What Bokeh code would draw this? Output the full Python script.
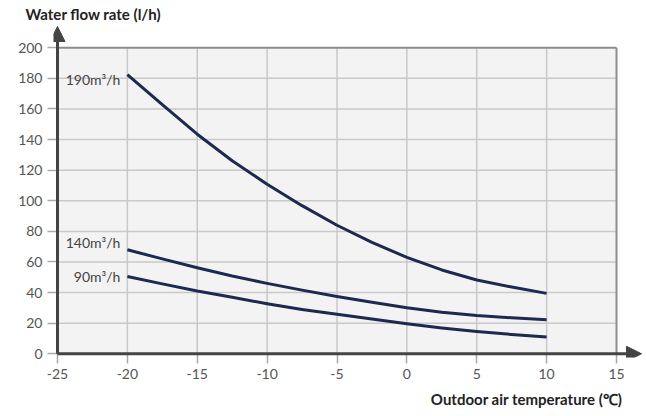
from bokeh.plotting import figure
from bokeh.models import Range1d, Arrow, NormalHead, Title, ColumnDataSource, FixedTicker
from bokeh.core.properties import value
from bokeh.embed import file_html
from bokeh.resources import INLINE

# ---- data ----
temps = [-20, -17.5, -15, -12.5, -10, -7.5, -5, -2.5, 0, 2.5, 5, 7.5, 10]
flow_190 = [182.5, 162.8, 143.5, 126.2, 110.8, 96.8, 84, 72.8, 63, 54.8, 48.2, 43.6, 39.5]
flow_140 = [68, 62, 56.2, 50.8, 46, 41.6, 37.5, 33.7, 30.1, 27.2, 25, 23.5, 22.2]
flow_90 = [50.5, 45.7, 41, 36.9, 32.7, 29, 25.8, 22.8, 19.6, 16.9, 14.6, 12.6, 10.9]

series_names = ["190m³/h", "140m³/h", "90m³/h"]
series_label_y = [179, 73, 50.3]

x_ticks = [-25, -20, -15, -10, -5, 0, 5, 10, 15]
y_ticks = [0, 20, 40, 60, 80, 100, 120, 140, 160, 180, 200]

x_title = "Outdoor air temperature (℃)"
y_title = "Water flow rate (l/h)"

FONT = "Lato"
LINE_COLOR = "#1c2a50"
AXIS_COLOR = "#444444"

p = figure(width=644, height=414, output_backend="svg", toolbar_location=None,
           x_range=Range1d(-25.286, 16.86), y_range=Range1d(-2.42, 216.5),
           min_border_left=53, min_border_right=2, min_border_top=22, min_border_bottom=57)
p.grid.visible = False
p.outline_line_color = None
p.background_fill_color = "white"

xmin, xmax = x_ticks[0], x_ticks[-1]
ymin, ymax = y_ticks[0], y_ticks[-1]

# plot area background
p.quad(left=[xmin], right=[xmax], bottom=[ymin], top=[ymax],
       fill_color="#f3f3f3", line_color=None)

# grid lines
gx = x_ticks[1:-1]
p.segment(x0=gx, y0=[ymin] * len(gx), x1=gx, y1=[ymax] * len(gx),
          line_color="#c9c9c9", line_width=1.5)
gy = y_ticks[1:-1]
p.segment(x0=[xmin] * len(gy), y0=gy, x1=[xmax] * len(gy), y1=gy,
          line_color="#c9c9c9", line_width=1.5)
# borders
p.segment(x0=[xmin, xmax], y0=[ymax, ymin], x1=[xmax, xmax], y1=[ymax, ymax],
          line_color="#8c8c8c", line_width=2)

# curves
for ys in (flow_190, flow_140, flow_90):
    p.line(temps, ys, line_color=LINE_COLOR, line_width=3, line_join="round")

# curve labels
src = ColumnDataSource(dict(x=[temps[0]] * 3, y=series_label_y, t=series_names))
p.text(x="x", y="y", text="t", source=src, x_offset=-7,
       text_align="right", text_baseline="middle",
       text_font=value(FONT), text_font_size="14px", text_color="#444444")

# axis arrows
p.add_layout(Arrow(x_start=xmin, y_start=ymin, x_end=16.79, y_end=ymin,
                   line_color=AXIS_COLOR, line_width=3,
                   end=NormalHead(size=15, fill_color=AXIS_COLOR, line_color=AXIS_COLOR)))
p.add_layout(Arrow(x_start=xmin, y_start=ymin, x_end=xmin, y_end=213.9,
                   line_color=AXIS_COLOR, line_width=3,
                   end=NormalHead(size=15, fill_color=AXIS_COLOR, line_color=AXIS_COLOR)))

# axes
for ax, ticks in ((p.xaxis, x_ticks), (p.yaxis, y_ticks)):
    ax.ticker = FixedTicker(ticks=ticks)
    ax.major_label_overrides = {t: str(t) for t in ticks}
    ax.axis_line_color = None
    ax.major_tick_line_color = "#aaaaaa"
    ax.major_tick_line_width = 1.5
    ax.major_tick_out = 6
    ax.major_tick_in = 4
    ax.minor_tick_line_color = None
    ax.major_label_text_font = FONT
    ax.major_label_text_font_size = "14px"
    ax.major_label_text_color = "#555555"
    ax.major_label_standoff = 5

# titles
p.title.text = y_title
p.title.align = "left"
p.title.offset = -28
p.title.standoff = 0
p.title.text_font = FONT
p.title.text_font_size = "15px"
p.title.text_font_style = "bold"
p.title.text_color = "#222222"

p.add_layout(Title(text=x_title, align="right", offset=20, standoff=13,
                   text_font=FONT, text_font_size="15px", text_font_style="bold",
                   text_color="#222222"), "below")

open("out.html", "w").write(file_html(p, INLINE))
